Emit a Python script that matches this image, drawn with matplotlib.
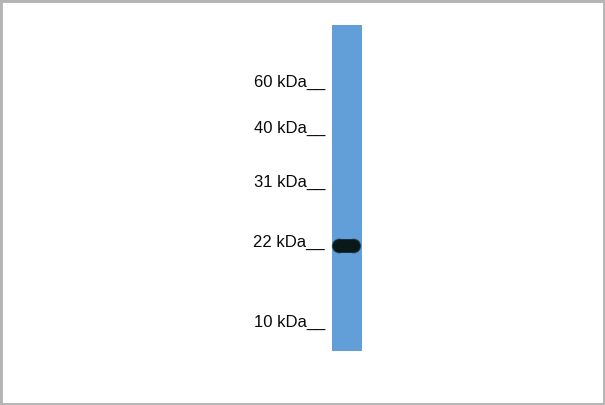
import matplotlib

matplotlib.use("Agg")
import matplotlib.pyplot as plt
from matplotlib.patches import Rectangle, Ellipse

plt.rcParams["font.family"] = ["Liberation Sans", "DejaVu Sans"]

# molecular weight ladder and migration distance (rows from the top of the image)
marker_kda = [60, 40, 31, 22, 10]
marker_migration = [82, 128, 182, 242, 322]

# single lane with one strong band
lane_top = 25
lane_bottom = 351
band_migration = 246

LANE_X, LANE_W = 332, 29.5
BAND_X, BAND_W, BAND_H = 346.5, 27, 12.5


def add_stadium(ax, cx, cy, w, h, color):
    r = h / 2
    ax.add_patch(Rectangle((cx - w / 2 + r, cy - r), w - h, h, facecolor=color, edgecolor="none"))
    for ex in (cx - w / 2 + r, cx + w / 2 - r):
        ax.add_patch(Ellipse((ex, cy), h, h, facecolor=color, edgecolor="none"))


fig = plt.figure(figsize=(6.05, 4.05), dpi=100)
ax = fig.add_axes([0, 0, 1, 1])
ax.set_xlim(0, 605)
ax.set_ylim(405, 0)
ax.axis("off")

# grey frame
fig.patches.append(Rectangle((0, 0), 1, 1, transform=fig.transFigure,
                             fill=False, edgecolor="#b4b4b4", linewidth=3.5))

# lane
ax.add_patch(Rectangle((LANE_X, lane_top), LANE_W, lane_bottom - lane_top,
                       facecolor="#629fd9", edgecolor="none"))

# band with a soft halo (opaque layers from outside in)
for pad, color in [(1.2, "#3a5f7f"), (0.6, "#1b3340"), (0.0, "#0a1818")]:
    add_stadium(ax, BAND_X, band_migration, BAND_W + 2 * pad, BAND_H + 2 * pad, color)

for kda, y in zip(marker_kda, marker_migration):
    ax.text(325, y, f"{kda} kDa__", ha="right", va="center", fontsize=12, color="#0a0a0a")

fig.savefig("out.png", dpi=100)
